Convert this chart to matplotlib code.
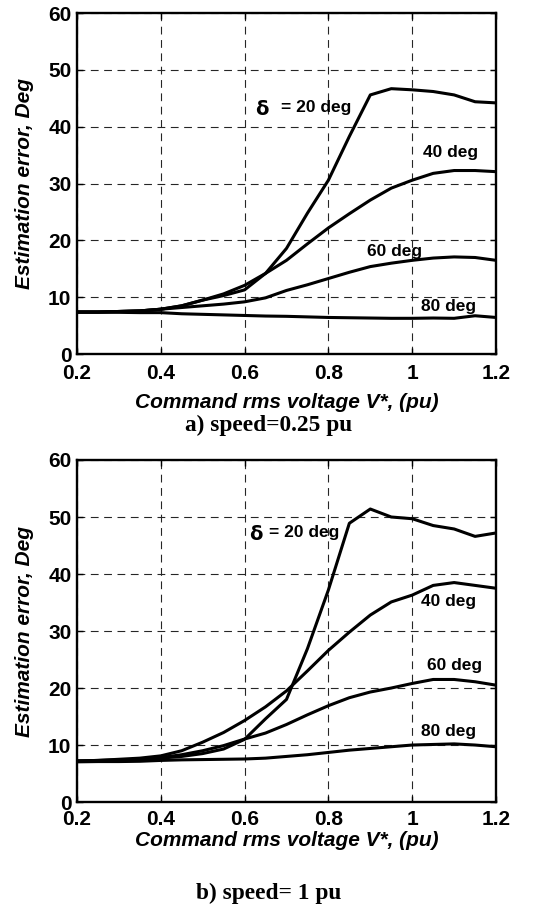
import numpy as np
from matplotlib import pyplot as plt

# command rms voltage (pu)
volt = [0.2, 0.25, 0.3, 0.35, 0.4, 0.45, 0.5, 0.55, 0.6, 0.65, 0.7,
        0.75, 0.8, 0.85, 0.9, 0.95, 1.0, 1.05, 1.1, 1.15, 1.2]

# a) speed = 0.25 pu
err_a_20 = [7.4, 7.4, 7.5, 7.6, 7.9, 8.5, 9.5, 10.3, 11.3, 14.2, 18.6,
            24.8, 30.6, 38.3, 45.6, 46.7, 46.5, 46.2, 45.6, 44.4, 44.2]
err_a_40 = [7.4, 7.4, 7.5, 7.6, 7.9, 8.5, 9.5, 10.6, 12.1, 14.2, 16.5,
            19.4, 22.2, 24.7, 27.1, 29.2, 30.6, 31.8, 32.3, 32.3, 32.1]
err_a_60 = [7.4, 7.4, 7.5, 7.6, 7.9, 8.2, 8.5, 8.8, 9.2, 9.9, 11.2,
            12.2, 13.3, 14.4, 15.4, 16.0, 16.5, 16.9, 17.1, 17.0, 16.5]
err_a_80 = [7.4, 7.4, 7.35, 7.3, 7.3, 7.1, 7.0, 6.9, 6.8, 6.7, 6.65,
            6.55, 6.45, 6.4, 6.35, 6.3, 6.3, 6.35, 6.3, 6.75, 6.45]

# b) speed = 1 pu
err_b_20 = [7.2, 7.2, 7.3, 7.4, 7.7, 8.0, 8.5, 9.3, 11.0, 14.6, 18.0,
            26.9, 37.2, 48.9, 51.4, 50.0, 49.7, 48.5, 47.9, 46.6, 47.2]
err_b_40 = [7.2, 7.3, 7.5, 7.7, 8.1, 9.0, 10.5, 12.2, 14.3, 16.7, 19.5,
            23.0, 26.6, 29.8, 32.8, 35.1, 36.3, 38.0, 38.5, 38.0, 37.5]
err_b_60 = [7.2, 7.3, 7.4, 7.5, 7.8, 8.3, 9.0, 9.9, 11.05, 12.1, 13.6,
            15.3, 16.9, 18.3, 19.3, 20.0, 20.8, 21.5, 21.5, 21.1, 20.5]
err_b_80 = [7.05, 7.1, 7.1, 7.15, 7.3, 7.4, 7.45, 7.5, 7.55, 7.7, 8.0,
            8.3, 8.7, 9.1, 9.4, 9.7, 10.0, 10.1, 10.2, 10.0, 9.7]

xticks = [0.2, 0.4, 0.6, 0.8, 1.0, 1.2]
xticklabels = ["0.2", "0.4", "0.6", "0.8", "1", "1.2"]
yticks = [0, 10, 20, 30, 40, 50, 60]

sans = "Liberation Sans"
serif = "Liberation Serif"

fig = plt.figure(figsize=(5.38, 9.08), dpi=100)
ax_a = fig.add_axes([0.143, 0.610, 0.779, 0.3756])
ax_b = fig.add_axes([0.143, 0.1167, 0.779, 0.3767])


def setup(ax, xpad, lpad):
    ax.set_xlim(0.2, 1.2)
    ax.set_ylim(0, 60)
    ax.set_xticks(xticks)
    ax.set_xticklabels(xticklabels)
    ax.set_yticks(yticks)
    ax.tick_params(direction="in", length=4, width=1, top=True, right=True,
                   labelsize=15)
    ax.tick_params(axis="x", pad=xpad)
    ax.tick_params(axis="y", pad=4)
    for lab in ax.get_xticklabels() + ax.get_yticklabels():
        lab.set_family(sans)
        lab.set_fontweight("bold")
    for s in ax.spines.values():
        s.set_linewidth(1.7)
    ax.grid(True, color="0.15", lw=0.8, linestyle=(0, (7, 5)))
    ax.set_axisbelow(True)
    ax.set_xlabel("Command rms voltage V*, (pu)", family=sans,
                  fontweight="bold", style="italic", fontsize=15,
                  labelpad=lpad)
    ax.set_ylabel("Estimation error, Deg", family=sans,
                  fontweight="bold", style="italic", fontsize=15, labelpad=10)


for ax, curves, xpad, lpad in [
        (ax_a, [err_a_20, err_a_40, err_a_60, err_a_80], 7, 7),
        (ax_b, [err_b_20, err_b_40, err_b_60, err_b_80], 6, 1.5)]:
    setup(ax, xpad, lpad)
    for c in curves:
        ax.plot(volt, c, color="k", lw=2.2)

lab_kw = dict(family=sans, fontweight="bold", fontsize=12.5, va="center")
delta_kw = dict(family="DejaVu Sans", fontweight="bold", fontsize=14,
                va="center")

# panel a annotations
ax_a.text(0.626, 43.0, "δ", **delta_kw)
ax_a.text(0.686, 43.4, "= 20 deg", **lab_kw)
ax_a.text(1.026, 35.4, "40 deg", **lab_kw)
ax_a.text(0.893, 18.0, "60 deg", **lab_kw)
ax_a.text(1.02, 8.3, "80 deg", **lab_kw)

# panel b annotations
ax_b.text(0.612, 47.0, "δ", **delta_kw)
ax_b.text(0.658, 47.2, "= 20 deg", **lab_kw)
ax_b.text(1.02, 35.1, "40 deg", **lab_kw)
ax_b.text(1.035, 24.0, "60 deg", **lab_kw)
ax_b.text(1.02, 12.4, "80 deg", **lab_kw)

fig.text(0.5, 1 - 425 / 908, "a) speed=0.25 pu", family=serif,
         fontweight="bold", fontsize=16.8, ha="center", va="center")
fig.text(0.5, 1 - 893 / 908, "b) speed= 1 pu", family=serif,
         fontweight="bold", fontsize=16.8, ha="center", va="center")

fig.savefig("out.png", dpi=100)
